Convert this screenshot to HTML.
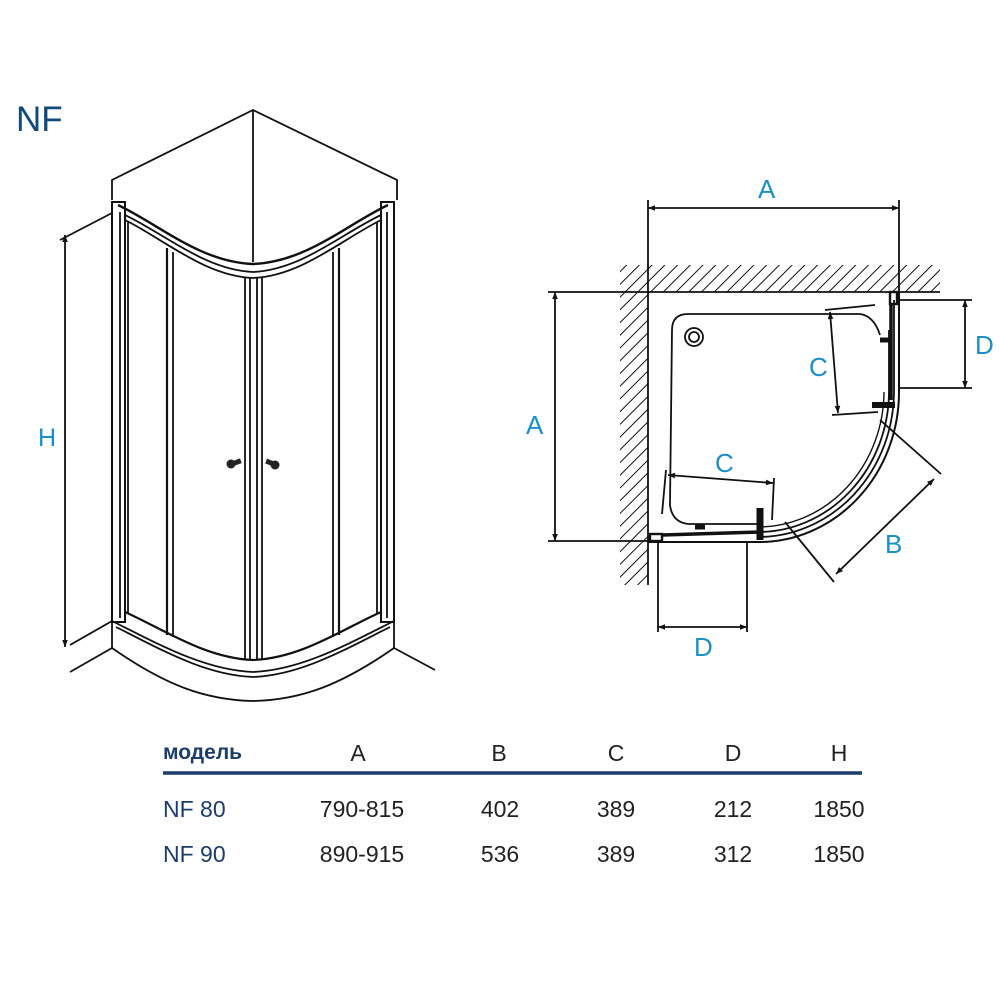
<!DOCTYPE html>
<html><head><meta charset="utf-8"><style>
html,body{margin:0;padding:0;background:#fff;width:1000px;height:1000px;overflow:hidden}
svg{display:block}
.t{font-family:"Liberation Sans","DejaVu Sans",sans-serif}
</style></head><body>
<svg width="1000" height="1000" viewBox="0 0 1000 1000" xmlns="http://www.w3.org/2000/svg">
<defs>
<pattern id="h" width="9" height="9" patternUnits="userSpaceOnUse" patternTransform="rotate(45)">
<line x1="0" y1="0" x2="0" y2="9" stroke="#111" stroke-width="2"/>
</pattern>
<marker id="ar" viewBox="0 0 10 10" refX="10" refY="5" markerWidth="11" markerHeight="7" orient="auto-start-reverse" markerUnits="userSpaceOnUse">
<path d="M0,1 L10,5 L0,9 z" fill="#111"/>
</marker>
</defs>

<text x="16" y="131" class="t" font-size="35" fill="#0f4a7a">NF</text>

<!-- LEFT DRAWING -->
<g fill="none" stroke="#111" stroke-width="1.8">
<path d="M112,200 L112,180 L253,110 L397,180 L397,200"/>
<line x1="253" y1="110" x2="253" y2="262"/>
<rect x="112" y="202" width="13" height="420" stroke-width="2"/>
<rect x="381" y="202" width="13" height="420" stroke-width="2"/>
<line x1="120" y1="212" x2="120" y2="618"/>
<line x1="387" y1="212" x2="387" y2="618"/>
<path d="M118,205 C160,225 200,262 253,264 C306,262 346,225 388,205" stroke-width="2.4"/>
<path d="M125,215 C165,234 205,270 253,272 C301,270 341,234 381,215"/>
<path d="M125,220 C165,240 205,276 253,278 C301,276 341,240 381,220"/>
<line x1="128" y1="222" x2="128" y2="613"/>
<line x1="377" y1="222" x2="377" y2="613"/>
<line x1="167" y1="248" x2="167" y2="635" stroke-width="2.2"/>
<line x1="173" y1="252" x2="173" y2="637"/>
<line x1="245" y1="277" x2="245" y2="660"/>
<line x1="250" y1="278" x2="250" y2="660"/>
<line x1="257" y1="278" x2="257" y2="660"/>
<line x1="262" y1="277" x2="262" y2="660"/>
<line x1="333" y1="252" x2="333" y2="637"/>
<line x1="339" y1="248" x2="339" y2="635" stroke-width="2.2"/>
<path d="M125,612 C165,630 205,658 253,660 C301,658 341,630 381,612" stroke-width="2.2"/>
<path d="M112,621 C160,645 205,670 253,672 C301,670 346,645 394,621"/>
<path d="M116,627 C162,650 205,675 253,677 C301,675 344,650 390,627"/>
<line x1="112" y1="622" x2="112" y2="648"/>
<line x1="394" y1="622" x2="394" y2="648"/>
<path d="M112,648 C165,685 205,700 253,701 C301,700 341,685 394,648"/>
<line x1="112" y1="621" x2="70" y2="645"/>
<line x1="112" y1="648" x2="70" y2="672"/>
<line x1="394" y1="648" x2="435" y2="670"/>
<line x1="112" y1="213" x2="60" y2="240"/>
<line x1="65" y1="235" x2="65" y2="647" marker-start="url(#ar)" marker-end="url(#ar)"/>
</g>
<g fill="#222">
<circle cx="231" cy="464" r="4.5"/><rect x="232" y="460" width="9" height="5" transform="rotate(-20 236 462)"/>
<circle cx="275" cy="465" r="4.5"/><rect x="266" y="460" width="9" height="5" transform="rotate(20 270 462)"/>
</g>
<text x="38" y="446" class="t" font-size="25" fill="#1a8fc8">H</text>

<!-- RIGHT DRAWING -->
<rect x="620" y="265" width="320" height="27" fill="url(#h)"/>
<rect x="620" y="292" width="28" height="293" fill="url(#h)"/>
<g fill="none" stroke="#111" stroke-width="1.8">
<line x1="648" y1="292" x2="940" y2="292"/>
<line x1="648" y1="292" x2="648" y2="585"/>
<line x1="648" y1="200" x2="648" y2="292"/>
<line x1="899" y1="200" x2="899" y2="292"/>
<line x1="648" y1="208" x2="899" y2="208" marker-start="url(#ar)" marker-end="url(#ar)"/>
<line x1="548" y1="292" x2="648" y2="292"/>
<line x1="548" y1="541" x2="660" y2="541"/>
<line x1="555" y1="292" x2="555" y2="541" marker-start="url(#ar)" marker-end="url(#ar)"/>
<path d="M899,292 L899,392 A140 150 0 0 1 758,542 L648,542" stroke-width="2"/>
<path d="M894,300 L894,392 A136 146 0 0 1 758,537"/>
<path d="M889,330 L889,392 A131 141 0 0 1 758,532"/>
<path d="M884,392 A126 136 0 0 1 758,527" stroke-width="1.4"/>
<path d="M672,330 Q672,314 688,314 L860,314 Q874,316 880,335"/>
<path d="M672,330 L670,505 Q672,522 688,524 L760,524"/>
<circle cx="694" cy="337" r="9"/><circle cx="694" cy="337" r="5"/>
<rect x="890" y="292" width="7" height="12" stroke-width="2.4"/>
<line x1="891" y1="304" x2="891" y2="400" stroke-width="3.5"/>
<path d="M872,405 L895,405" stroke-width="6"/>
<path d="M880,340 L890,340" stroke-width="5"/>
<rect x="650" y="534" width="12" height="7" stroke-width="2.4"/>
<line x1="662" y1="535" x2="760" y2="532" stroke-width="3.5"/>
<path d="M760,508 L760,540" stroke-width="7"/>
<path d="M695,527 L705,527" stroke-width="5"/>
<line x1="899" y1="300" x2="972" y2="300"/>
<line x1="899" y1="388" x2="972" y2="388"/>
<line x1="965" y1="300" x2="965" y2="388" marker-start="url(#ar)" marker-end="url(#ar)"/>
<line x1="658" y1="542" x2="658" y2="632"/>
<line x1="747" y1="542" x2="747" y2="632"/>
<line x1="658" y1="627" x2="747" y2="627" marker-start="url(#ar)" marker-end="url(#ar)"/>
<line x1="880" y1="420" x2="941" y2="474"/>
<line x1="785" y1="522" x2="834" y2="582"/>
<line x1="934" y1="479" x2="836" y2="574" marker-start="url(#ar)" marker-end="url(#ar)"/>
<line x1="825" y1="310" x2="875" y2="305"/>
<line x1="832" y1="415" x2="878" y2="412"/>
<line x1="830" y1="312" x2="838" y2="413" marker-start="url(#ar)" marker-end="url(#ar)"/>
<line x1="666" y1="470" x2="662" y2="514"/>
<line x1="774" y1="478" x2="772" y2="520"/>
<line x1="668" y1="475" x2="773" y2="483" marker-start="url(#ar)" marker-end="url(#ar)"/>
</g>
<g class="t" font-size="26" fill="#1a8fc8">
<text x="758" y="198">A</text>
<text x="526" y="434">A</text>
<text x="975" y="354">D</text>
<text x="694" y="656">D</text>
<text x="885" y="553">B</text>
<text x="809" y="376">C</text>
<text x="715" y="472">C</text>
</g>

<text x="163" y="759" class="t" font-size="21" font-weight="bold" fill="#1a3d6b">модель</text>
<line x1="163" y1="773" x2="862" y2="773" stroke="#1a3d6b" stroke-width="3.5"/>
<g class="t" font-size="23" fill="#222" text-anchor="middle">
<text x="358" y="761">A</text><text x="499" y="761">B</text><text x="616" y="761">C</text><text x="733" y="761">D</text><text x="839" y="761">H</text>
<text x="362" y="817">790-815</text><text x="500" y="817">402</text><text x="616" y="817">389</text><text x="733" y="817">212</text><text x="839" y="817">1850</text>
<text x="362" y="862">890-915</text><text x="500" y="862">536</text><text x="616" y="862">389</text><text x="733" y="862">312</text><text x="839" y="862">1850</text>
</g>
<g class="t" font-size="23" fill="#1a3d6b">
<text x="163" y="817">NF 80</text>
<text x="163" y="862">NF 90</text>
</g>
</svg>
</body></html>
